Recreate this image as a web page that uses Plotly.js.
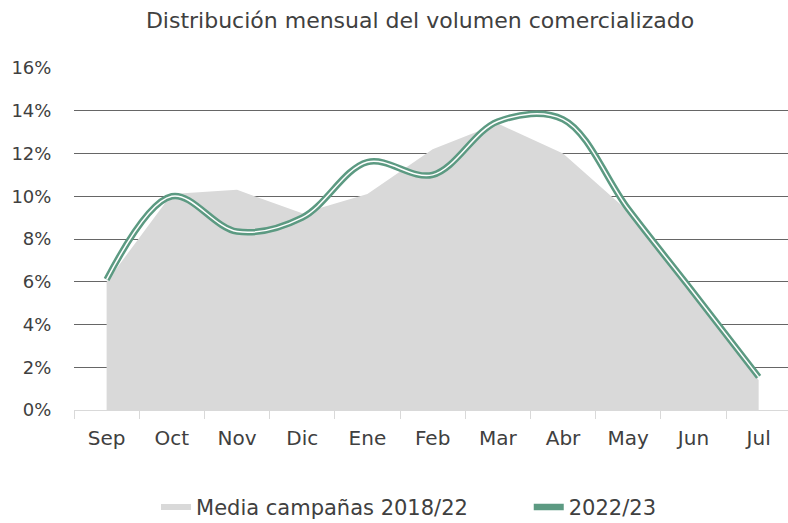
<!DOCTYPE html>
<html>
<head>
<meta charset="utf-8">
<script src="https://cdn.plot.ly/plotly-3.0.1.min.js"></script>
<style>html,body{margin:0;padding:0;background:#fff;}#chart{width:788px;height:523px;}</style>
</head>
<body>
<div id="chart"></div>
<script>
const months = ['Sep','Oct','Nov','Dic','Ene','Feb','Mar','Abr','May','Jun','Jul'];
const media1822 = [0.060,0.101,0.103,0.092,0.101,0.122,0.134,0.120,0.093,0.054,0.014];
const camp2223 = [0.061,0.100,0.0835,0.090,0.116,0.110,0.135,0.136,0.094,0.055,0.0155];
const yTicks = [0,0.02,0.04,0.06,0.08,0.10,0.12,0.14,0.16];

const FONT = 'DejaVu Sans, sans-serif';
const TXT = '#404040';
const GREEN = '#5c9a82';

const traces = [
  {x: months, y: media1822, type: 'scatter', mode: 'none', fill: 'tozeroy',
   fillcolor: '#d9d9d9', name: 'Media campañas 2018/22', hoverinfo: 'skip', legend: 'legend'},
  {x: months, y: camp2223, type: 'scatter', mode: 'lines', name: '2022/23', legend: 'legend2',
   line: {color: GREEN, width: 6.5, shape: 'spline', smoothing: 1}},
  {x: months, y: camp2223, type: 'scatter', mode: 'lines', showlegend: false,
   line: {color: '#ffffff', width: 1.5, shape: 'spline', smoothing: 1}}
];

const legFont = {family: FONT, size: 21, color: TXT};

const layout = {
  width: 788, height: 523,
  margin: {l: 74, r: 0, t: 68, b: 113},
  paper_bgcolor: '#fff', plot_bgcolor: '#fff',
  font: {family: FONT, color: TXT, size: 16},
  title: {text: 'Distribución mensual del volumen comercializado',
          font: {family: FONT, size: 22, color: TXT},
          xref: 'container', x: 0.533, xanchor: 'center',
          yref: 'container', y: 0.962, yanchor: 'middle'},
  xaxis: {type: 'category', range: [-0.5, 10.45], showgrid: false, zeroline: false,
          showline: true, linecolor: '#d9d9d9', linewidth: 1,
          ticks: 'outside', tickson: 'boundaries', ticklen: 8, tickcolor: '#d9d9d9',
          ticklabelstandoff: 10,
          tickfont: {family: FONT, size: 20, color: TXT}},
  yaxis: {range: [0, 0.16], tickvals: yTicks, tickformat: '.0%',
          showgrid: true, gridcolor: '#666666', gridwidth: 1, zeroline: false,
          showline: false, ticks: 'outside', ticklen: 18, tickcolor: 'rgba(0,0,0,0)',
          tickfont: {family: FONT, size: 18, color: TXT}},
  showlegend: true,
  legend: {orientation: 'h', xref: 'container', x: 0.198, xanchor: 'left',
           yref: 'container', y: 0.03, yanchor: 'middle',
           font: legFont, itemwidth: 30},
  legend2: {orientation: 'h', xref: 'container', x: 0.671, xanchor: 'left',
           yref: 'container', y: 0.03, yanchor: 'middle',
           font: legFont, itemwidth: 30}
};

Plotly.newPlot('chart', traces, layout, {displayModeBar: false, staticPlot: true});
</script>
</body>
</html>
